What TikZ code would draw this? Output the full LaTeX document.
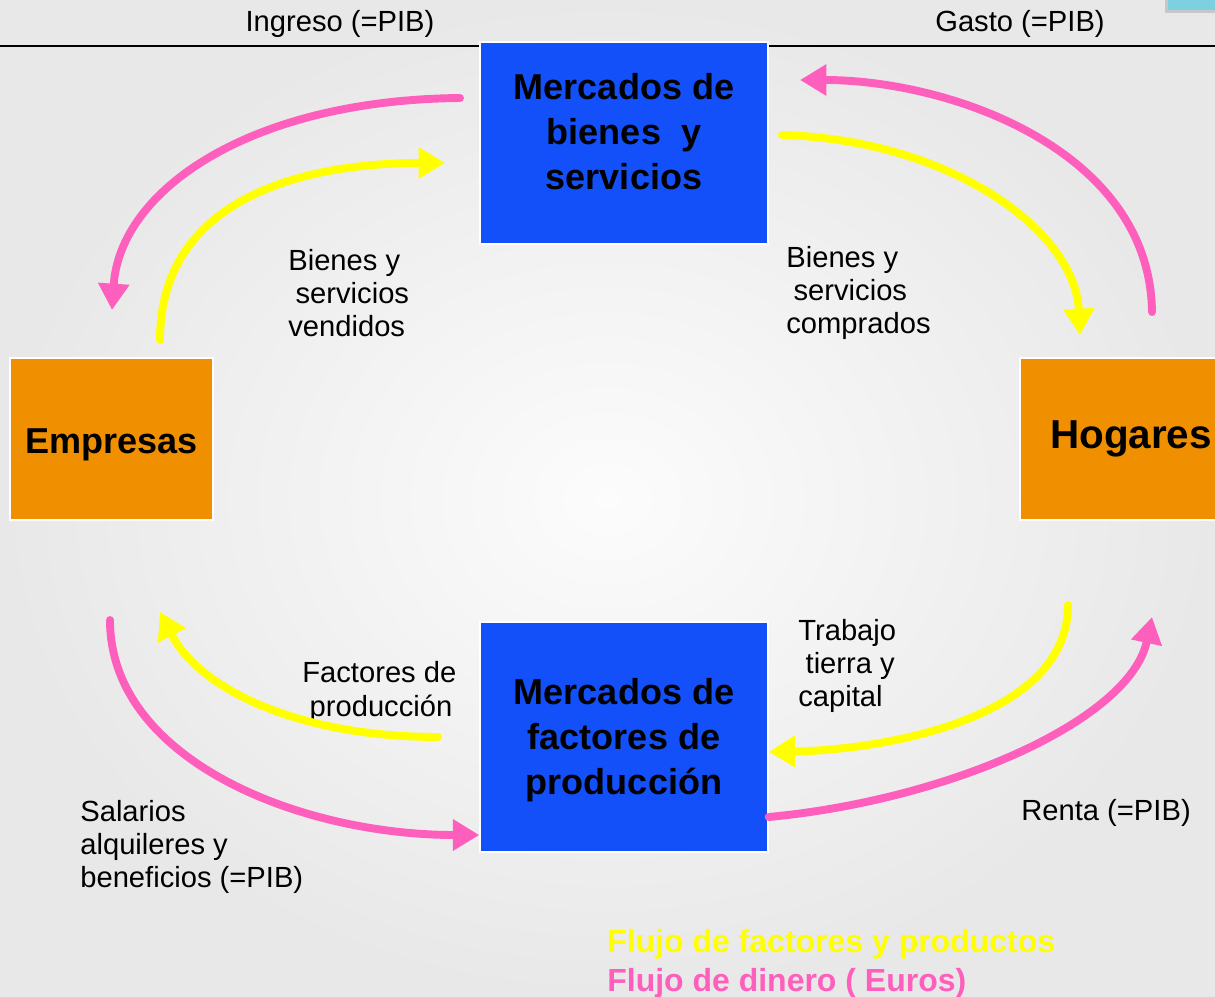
\documentclass[tikz,border=0pt]{standalone}
\usepackage{fontspec}
\setmainfont{Liberation Sans}
\usetikzlibrary{arrows.meta}
\definecolor{boxblue}{RGB}{20,80,250}
\definecolor{boxorange}{RGB}{240,144,0}
\definecolor{flowyellow}{RGB}{255,255,0}
\definecolor{flowpink}{RGB}{255,95,188}
\definecolor{tabblue}{RGB}{125,208,224}

\begin{document}
\begin{tikzpicture}[x=0.02cm, y=-0.02cm,
    bluebox/.style={draw=white, line width=0.8pt, fill=boxblue, minimum width=5.76cm, inner sep=0pt},
    orangebox/.style={draw=white, line width=0.8pt, fill=boxorange, minimum height=3.24cm, inner sep=0pt},
    boxtext/.style={align=center, font=\bfseries\fontsize{20.5}{25.6}\selectfont},
    lbl/.style={anchor=west, align=left, inner sep=0pt, font=\fontsize{16.6}{19}\selectfont},
    flow/.style={line width=4.5pt, line cap=round, -{Triangle[length=15pt,width=17pt]}},
    prod/.style={flow, draw=flowyellow},
    money/.style={flow, draw=flowpink}]
    \useasboundingbox (0,0) rectangle (1215,997);
    \clip (0,0) rectangle (1215,997);
    \shade[inner color=white!60!black!3, outer color=black!9] (0,0) rectangle (1215,997);
    \fill[black!22] (1165,-5) rectangle (1220,13);
    \fill[tabblue] (1168,-5) rectangle (1220,10);
    \draw[line width=1.1pt] (0,46) -- (1215,46);

    \node (mbs) [bluebox, minimum height=4.04cm] at (624,143) {};
    \node [boxtext] at (624,132) {Mercados de\\bienes \ y\\servicios};
    \node (mfp) [bluebox, minimum height=4.6cm] at (624,737) {};
    \node [boxtext] at (624,740) {Mercados de\\factores de\\producción};
    \node (emp) [orangebox, minimum width=4.06cm] at (111.5,439) {};
    \node [boxtext] at (111.5,445) {Empresas};
    \node (hog) [orangebox, minimum width=4.4cm] at (1130,439) {};
    \node [boxtext, font=\bfseries\fontsize{23}{28}\selectfont] at (1131,439) {Hogares};

    \node [lbl, anchor=center] at (340,24) {Ingreso (=PIB)};
    \node [lbl, anchor=center] at (1020,24) {Gasto (=PIB)};
    \node [lbl] at (288,293) {Bienes y\\\hspace{0.25em}servicios\\vendidos};
    \node [lbl] at (786,293) {Bienes y\\\hspace{0.25em}servicios\\comprados};
    \node [lbl] at (302,692) {Factores de\\\hspace{0.25em}producción};
    \node [lbl] at (798,666) {Trabajo\\\hspace{0.25em}tierra y\\capital};
    \node [lbl] at (80,847) {Salarios\\alquileres y\\beneficios (=PIB)};
    \node [lbl] at (1021,813) {Renta (=PIB)};
    \node [lbl, font=\bfseries\fontsize{18.2}{22.2}\selectfont] at (607,964)
        {\textcolor{flowyellow}{Flujo de factores y productos}\\\textcolor{flowpink}{Flujo de dinero ( Euros)}};

    \coordinate (ing1) at (460,98);
    \coordinate (ing2) at (112,310);
    \coordinate (ven1) at (160,340);
    \coordinate (ven2) at (445,163);
    \coordinate (gas1) at (1152,312);
    \coordinate (gas2) at (800,80);
    \coordinate (com1) at (782,135);
    \coordinate (com2) at (1080,335);
    \coordinate (fac1) at (438,737);
    \coordinate (fac2) at (160,612);
    \coordinate (sal1) at (110,620);
    \coordinate (sal2) at (mfp.west |- 0,835);
    \coordinate (tra1) at (1068,605);
    \coordinate (tra2) at (mfp.east |- 0,752);
    \coordinate (ren1) at (mfp.east |- 0,817);
    \coordinate (ren2) at (1152,617);

    \draw[money] (ing1) .. controls (250,100) and (120,190) .. (ing2);
    \draw[prod] (ven1) .. controls (160,200) and (300,163) .. (ven2);
    \draw[money] (gas1) .. controls (1150,150) and (950,80) .. (gas2);
    \draw[prod] (com1) .. controls (950,140) and (1075,230) .. (com2);
    \draw[prod] (fac1) .. controls (300,737) and (200,690) .. (fac2);
    \draw[money] (sal1) .. controls (110,760) and (300,835) .. (sal2);
    \draw[prod] (tra1) .. controls (1068,720) and (880,750) .. (tra2);
    \draw[money] (ren1) .. controls (950,800) and (1130,720) .. (ren2);
\end{tikzpicture}
\end{document}
